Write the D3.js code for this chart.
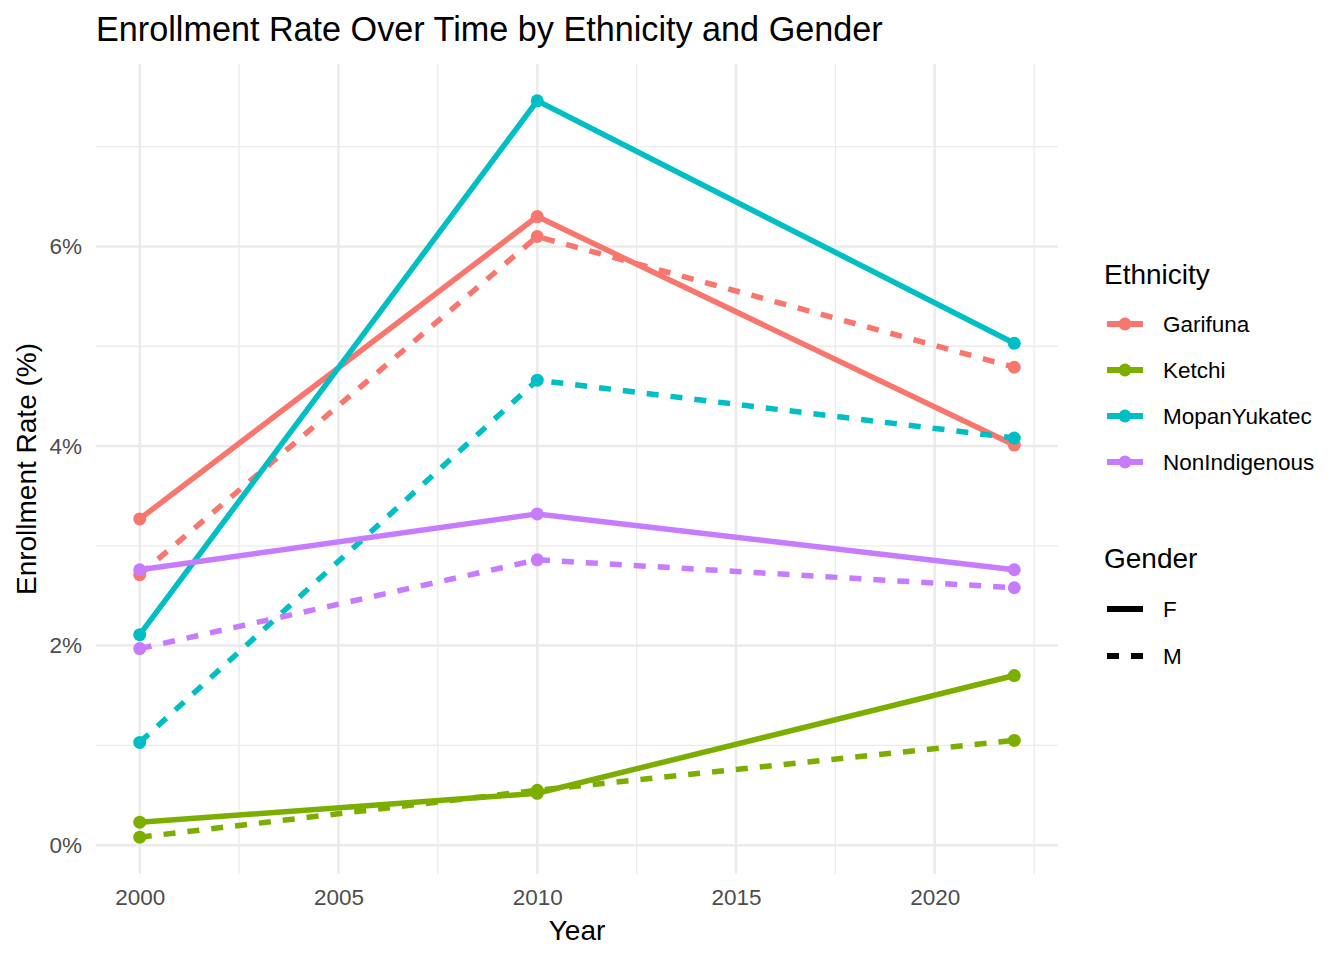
<!DOCTYPE html>
<html>
<head>
<meta charset="utf-8">
<script src="https://cdn.jsdelivr.net/npm/d3@7"></script>
<style>
  body { margin: 0; background: #fff; }
  text { font-family: "Liberation Sans", Arial, sans-serif; }
</style>
</head>
<body>
<svg></svg>
<script>
// data (enrollment rate in %)
let years = [2000, 2010, 2022];
let ethnicities = ['Garifuna', 'Ketchi', 'MopanYukatec', 'NonIndigenous'];
let genders = ['F', 'M'];

let garifunaF = [3.27, 6.30, 4.01];
let garifunaM = [2.71, 6.10, 4.79];
let ketchiF = [0.23, 0.52, 1.70];
let ketchiM = [0.08, 0.55, 1.05];
let mopanF = [2.11, 7.46, 5.03];
let mopanM = [1.03, 4.66, 4.08];
let nonIndF = [2.76, 3.32, 2.76];
let nonIndM = [1.97, 2.86, 2.58];

let xTicks = [2000, 2005, 2010, 2015, 2020];
let xMinor = [2002.5, 2007.5, 2012.5, 2017.5, 2022.5];
let yTicks = [0, 2, 4, 6];
let yMinor = [1, 3, 5, 7];

let colors = ['#F8766D', '#7CAE00', '#00BFC4', '#C77CFF'];

let series = [
    { eth: 'Garifuna', gender: 'F', values: garifunaF },
    { eth: 'Garifuna', gender: 'M', values: garifunaM },
    { eth: 'Ketchi', gender: 'F', values: ketchiF },
    { eth: 'Ketchi', gender: 'M', values: ketchiM },
    { eth: 'MopanYukatec', gender: 'F', values: mopanF },
    { eth: 'MopanYukatec', gender: 'M', values: mopanM },
    { eth: 'NonIndigenous', gender: 'F', values: nonIndF },
    { eth: 'NonIndigenous', gender: 'M', values: nonIndM }
];

let svgWidth = 1344, svgHeight = 960;
let pLeft = 96, pRight = 1058, pTop = 64, pBottom = 874;
let lineW = 5.5, dash = '12,12';

let svg = d3.select('svg')
    .attr('width', svgWidth)
    .attr('height', svgHeight);

// ggplot style 5% expansion
let allVals = series.flatMap(s => s.values);
let yMin = d3.min(allVals), yMax = d3.max(allVals);
let yPad = (yMax - yMin) * 0.05;
let xPad = (2022 - 2000) * 0.05;

let x = d3.scaleLinear().domain([2000 - xPad, 2022 + xPad]).range([pLeft, pRight]);
let y = d3.scaleLinear().domain([yMin - yPad, yMax + yPad]).range([pBottom, pTop]);
let color = d3.scaleOrdinal().domain(ethnicities).range(colors);

// grid
let grid = svg.append('g');
grid.selectAll('.xminor').data(xMinor).enter().append('line')
    .attr('x1', d => x(d)).attr('x2', d => x(d))
    .attr('y1', pTop).attr('y2', pBottom)
    .attr('stroke', '#EBEBEB').attr('stroke-width', 1.3);
grid.selectAll('.yminor').data(yMinor).enter().append('line')
    .attr('x1', pLeft).attr('x2', pRight)
    .attr('y1', d => y(d)).attr('y2', d => y(d))
    .attr('stroke', '#EBEBEB').attr('stroke-width', 1.3);
grid.selectAll('.xmajor').data(xTicks).enter().append('line')
    .attr('x1', d => x(d)).attr('x2', d => x(d))
    .attr('y1', pTop).attr('y2', pBottom)
    .attr('stroke', '#EBEBEB').attr('stroke-width', 2.5);
grid.selectAll('.ymajor').data(yTicks).enter().append('line')
    .attr('x1', pLeft).attr('x2', pRight)
    .attr('y1', d => y(d)).attr('y2', d => y(d))
    .attr('stroke', '#EBEBEB').attr('stroke-width', 2.5);

// axes (labels only, like theme_minimal)
let xAxis = svg.append('g')
    .attr('transform', 'translate(0,' + (pBottom + 12) + ')')
    .call(d3.axisBottom(x).tickValues(xTicks).tickFormat(d3.format('d')).tickSize(0));
xAxis.select('.domain').remove();
xAxis.selectAll('text')
    .attr('font-size', '22.5px').attr('fill', '#4D4D4D')
    .attr('font-family', '"Liberation Sans", Arial, sans-serif');

let yAxis = svg.append('g')
    .attr('transform', 'translate(' + (pLeft - 11) + ',0)')
    .call(d3.axisLeft(y).tickValues(yTicks).tickFormat(d => d + '%').tickSize(0));
yAxis.select('.domain').remove();
yAxis.selectAll('text')
    .attr('font-size', '22.5px').attr('fill', '#4D4D4D')
    .attr('font-family', '"Liberation Sans", Arial, sans-serif');

// lines
let line = d3.line()
    .x((d, i) => x(years[i]))
    .y(d => y(d));

svg.append('g').selectAll('path')
    .data(series)
    .enter()
    .append('path')
    .attr('d', d => line(d.values))
    .attr('fill', 'none')
    .attr('stroke', d => color(d.eth))
    .attr('stroke-width', lineW)
    .attr('stroke-dasharray', d => d.gender == 'M' ? dash : null);

// points
let pts = series.flatMap(s => s.values.map((v, i) => ({ eth: s.eth, year: years[i], v: v })));
svg.append('g').selectAll('circle')
    .data(pts)
    .enter()
    .append('circle')
    .attr('cx', d => x(d.year))
    .attr('cy', d => y(d.v))
    .attr('r', 6.5)
    .attr('fill', d => color(d.eth));

// titles
svg.append('text')
    .attr('x', 96).attr('y', 41)
    .attr('font-size', '34.2px')
    .text('Enrollment Rate Over Time by Ethnicity and Gender');

svg.append('text')
    .attr('x', (pLeft + pRight) / 2).attr('y', 940)
    .attr('text-anchor', 'middle')
    .attr('font-size', '28px')
    .text('Year');

svg.append('text')
    .attr('transform', 'translate(36,' + (pTop + pBottom) / 2 + ') rotate(-90)')
    .attr('text-anchor', 'middle')
    .attr('font-size', '28px')
    .text('Enrollment Rate (%)');

// legend: ethnicity
let lx = 1104;
svg.append('text')
    .attr('x', lx).attr('y', 284)
    .attr('font-size', '28px')
    .text('Ethnicity');

let ethLeg = svg.append('g').selectAll('g')
    .data(ethnicities)
    .enter()
    .append('g')
    .attr('transform', (d, i) => 'translate(0,' + (324 + i * 46) + ')');
ethLeg.append('line')
    .attr('x1', 1107).attr('x2', 1143)
    .attr('stroke', d => color(d)).attr('stroke-width', 6);
ethLeg.append('circle')
    .attr('cx', 1125).attr('r', 6.5)
    .attr('fill', d => color(d));
ethLeg.append('text')
    .attr('x', 1163).attr('dy', '0.36em')
    .attr('font-size', '22.5px')
    .text(d => d);

// legend: gender
svg.append('text')
    .attr('x', lx).attr('y', 568)
    .attr('font-size', '28px')
    .text('Gender');

let genLeg = svg.append('g').selectAll('g')
    .data(genders)
    .enter()
    .append('g')
    .attr('transform', (d, i) => 'translate(0,' + (609 + i * 47) + ')');
genLeg.append('line')
    .attr('x1', 1107).attr('x2', 1143)
    .attr('stroke', '#000').attr('stroke-width', 6)
    .attr('stroke-dasharray', d => d == 'M' ? dash : null);
genLeg.append('text')
    .attr('x', 1163).attr('dy', '0.36em')
    .attr('font-size', '22.5px')
    .text(d => d);
</script>
</body>
</html>
